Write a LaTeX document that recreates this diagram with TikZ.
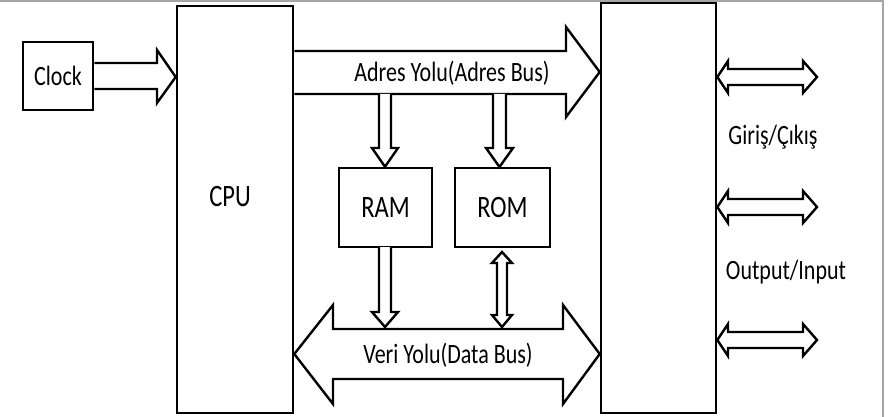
\documentclass[tikz,border=0pt]{standalone}
\usepackage{fontspec}
\setmainfont{Carlito}
\newcommand{\tallt}[1]{\scalebox{1}[1.27]{#1}}
\begin{document}
\begin{tikzpicture}[x=1pt,y=-1pt,
  blk/.style={draw=black,line width=2.6pt,fill=white},
  fat/.style={draw=black,line width=2.4pt,fill=white,line join=miter},
  lbl/.style={font=\fontsize{22}{24}\selectfont,inner sep=0pt},
  big/.style={font=\fontsize{24.5}{26}\selectfont,inner sep=0pt}]
\useasboundingbox (0,0) rectangle (892,417);
\draw[gray!70,line width=1.5pt] (0,1) -- (883,1) -- (883,417);
% boxes
\node[blk,minimum width=70pt,minimum height=68pt,inner sep=0pt] (clock) at (58,76) {};
\node[lbl] at (clock.center) {\tallt{Clock}};
\node[blk,minimum width=116pt,minimum height=407pt,inner sep=0pt] (cpu) at (235,209.5) {};
\node[big] (cpulbl) at (230,197) {\tallt{CPU}};
\node[blk,minimum width=115pt,minimum height=410pt,inner sep=0pt] (io) at (658.5,208) {};
\node[blk,minimum width=93pt,minimum height=79pt,inner sep=0pt] (ram) at (385.5,207.5) {};
\node[big] at (ram.center) {\tallt{RAM}};
\node[blk,minimum width=95pt,minimum height=79pt,inner sep=0pt] (rom) at (502.5,207.5) {};
\node[big] at (rom.center) {\tallt{ROM}};
% clock arrow
\draw[fat] (clock.east |- 0,63) -- (157,63) -- (157,50) -- (cpu.west |- 0,77) -- (157,103) -- (157,89) -- (clock.east |- 0,89);
% address bus
\draw[fat] (cpu.east |- 0,51) -- (566,51) -- (566,27) -- (io.west |- 0,72) -- (566,117) -- (566,94) -- (cpu.east |- 0,94);
\node[lbl] (abus) at (452,73) {\tallt{Adres Yolu(Adres Bus)}};
% address to RAM / ROM
\draw[fat] (379,94) -- (379,148) -- (372,148) -- (ram.north -| 385,0) -- (398,148) -- (391,148) -- (391,94);
\draw[fat] (493,94) -- (493,148) -- (486,148) -- (499.5,167) -- (513,148) -- (506,148) -- (506,94);
% data bus
\draw[fat] (cpu.east |- 0,354) -- (333,305) -- (333,329) -- (563,329) -- (563,305) -- (io.west |- 0,354) -- (563,404) -- (563,379) -- (333,379) -- (333,404) -- cycle;
\node[lbl] (dbus) at (448,355) {\tallt{Veri Yolu(Data Bus)}};
% RAM to data bus
\draw[fat] (379,247) -- (379,312) -- (372,312) -- (385,327) -- (398,312) -- (391,312) -- (391,247);
% ROM double arrow
\draw[fat] (502,252) -- (512,263) -- (507,263) -- (507,315) -- (512,315) -- (502,327) -- (492,315) -- (497,315) -- (497,263) -- (492,263) -- cycle;
% IO arrows
\foreach \yy/\nm in {77/a,207/b,340/c}{
  \draw[fat] (io.east |- 0,\yy) -- (728,\yy-16) -- (728,\yy-8) -- (803,\yy-8) -- (803,\yy-16) -- (817,\yy) -- (803,\yy+16) -- (803,\yy+8) -- (728,\yy+8) -- (728,\yy+16) -- cycle;
}
\node[lbl] (gc) at (773,137) {\tallt{Giriş/Çıkış}};
\node[lbl] (oi) at (786,272) {\tallt{Output/Input}};
\end{tikzpicture}
\end{document}
